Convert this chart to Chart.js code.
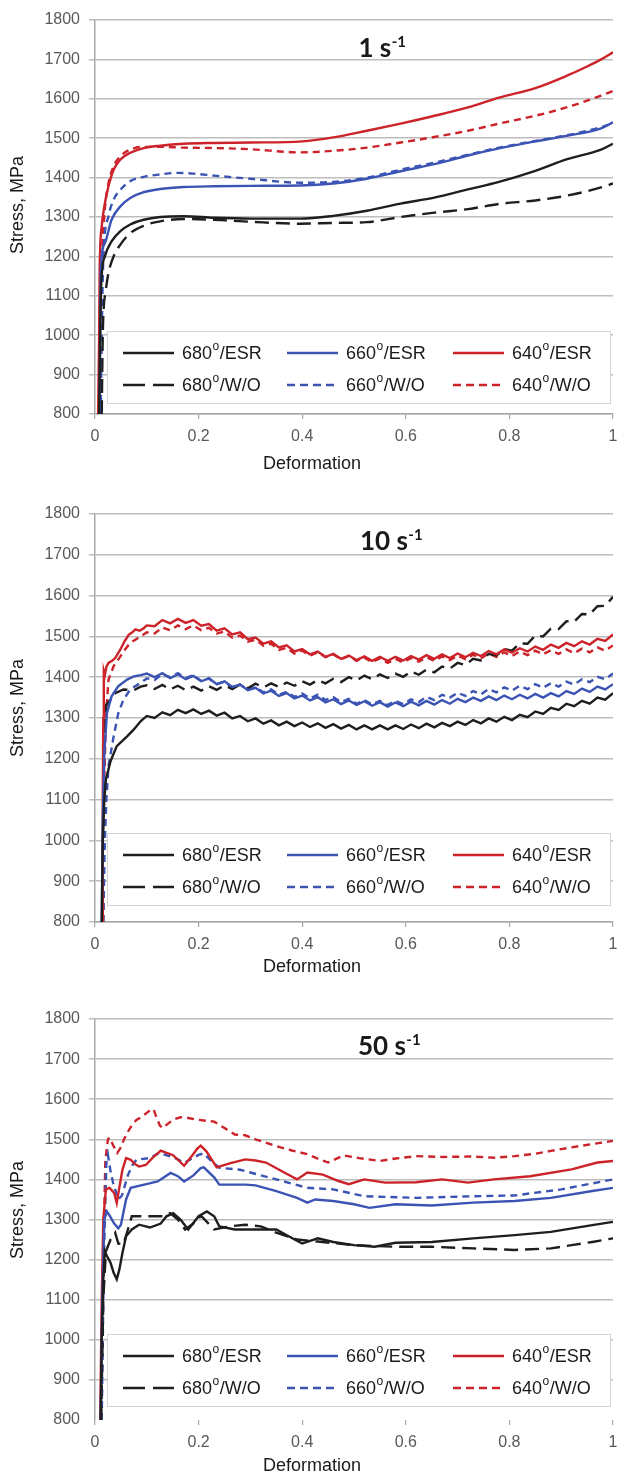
<!DOCTYPE html>
<html><head><meta charset="utf-8">
<script src="https://cdn.jsdelivr.net/npm/chart.js@4.4.1/dist/chart.umd.min.js"></script>
<style>
html,body{margin:0;padding:0;background:#fff;overflow:hidden;width:617px;height:1474px;position:relative;}
canvas{position:absolute;left:0;display:block;}
</style></head><body>
<canvas id="c1" width="640" height="480" style="top:0px"></canvas>
<canvas id="c2" width="640" height="490" style="top:494px"></canvas>
<canvas id="c3" width="640" height="475" style="top:999px"></canvas>
<script>
// ---------- labels ----------
const seriesLabels = ['680°/ESR','660°/ESR','640°/ESR','680°/W/O','660°/W/O','640°/W/O'];
const chartTitles = ['1 s','10 s','50 s'];
const titleSup = '-1';
const xTicks = [0,0.2,0.4,0.6,0.8,1];
const yTicks = [800,900,1000,1100,1200,1300,1400,1500,1600,1700,1800];

// ---------- chart 1 : 1 s-1 ----------
const c1_680esr_x = [0.008,0.010,0.012,0.019,0.032,0.049,0.068,0.094,0.126,0.171,0.23,0.30,0.396,0.46,0.525,0.59,0.655,0.72,0.78,0.85,0.91,0.977,1.0];
const c1_680esr_y = [800,1000,1130,1200,1238,1264,1281,1293,1300,1302,1298,1296,1296,1303,1316,1334,1349,1370,1389,1417,1446,1471,1486];
const c1_660esr_x = [0.009,0.010,0.011,0.019,0.032,0.049,0.068,0.094,0.126,0.171,0.23,0.30,0.396,0.46,0.525,0.59,0.655,0.72,0.78,0.85,0.91,0.977,1.0];
const c1_660esr_y = [800,1000,1158,1234,1293,1327,1348,1363,1371,1376,1378,1379,1380,1385,1397,1416,1434,1456,1474,1492,1506,1525,1540];
const c1_640esr_x = [0.006,0.008,0.009,0.013,0.017,0.026,0.036,0.049,0.068,0.094,0.126,0.171,0.23,0.30,0.40,0.46,0.525,0.59,0.65,0.72,0.78,0.85,0.91,0.95,0.977,1.0];
const c1_640esr_y = [800,1000,1166,1276,1319,1378,1420,1446,1463,1475,1481,1486,1488,1489,1492,1502,1519,1537,1555,1578,1603,1627,1658,1682,1700,1718];
const c1_680wo_x = [0.013,0.015,0.017,0.020,0.026,0.036,0.049,0.068,0.094,0.126,0.171,0.23,0.30,0.396,0.46,0.525,0.59,0.655,0.72,0.78,0.85,0.91,0.977,1.0];
const c1_680wo_y = [800,1000,1073,1107,1158,1200,1230,1259,1278,1289,1295,1293,1288,1283,1285,1287,1300,1311,1320,1333,1342,1354,1375,1385];
const c1_660wo_x = [0.011,0.013,0.016,0.026,0.036,0.049,0.068,0.094,0.126,0.158,0.19,0.23,0.30,0.396,0.46,0.525,0.59,0.655,0.72,0.78,0.85,0.91,0.977,1.0];
const c1_660wo_y = [800,1000,1192,1302,1344,1369,1391,1402,1408,1412,1410,1405,1397,1387,1389,1400,1420,1438,1458,1476,1493,1507,1528,1538];
const c1_640wo_x = [0.008,0.010,0.013,0.019,0.026,0.036,0.049,0.068,0.094,0.126,0.171,0.23,0.30,0.396,0.46,0.525,0.59,0.655,0.72,0.78,0.85,0.91,0.977,1.0];
const c1_640wo_y = [800,1000,1180,1319,1385,1429,1454,1471,1478,1478,1476,1475,1472,1464,1468,1476,1489,1503,1519,1537,1557,1578,1608,1620];

// ---------- chart 2 : 10 s-1 ----------
const c2_tail_x = [0.100,0.115,0.130,0.145,0.160,0.175,0.190,0.205,0.220,0.235,0.250,0.265,0.280,0.295,0.310,0.325,0.340,0.355,0.370,0.385,0.400,0.415,0.430,0.445,0.460,0.475,0.490,0.505,0.520,0.535,0.550,0.565,0.580,0.595,0.610,0.625,0.640,0.655,0.670,0.685,0.700,0.715,0.730,0.745,0.760,0.775,0.790,0.805,0.820,0.835,0.850,0.865,0.880,0.895,0.910,0.925,0.940,0.955,0.970,0.985,1.000];
const c2_680esr_x0 = [0.013,0.015,0.018,0.021,0.030,0.042,0.062,0.075,0.088];
const c2_680esr_y0 = [800,1000,1100,1149,1194,1231,1255,1272,1292];
const c2_680esr_y1 = [1305,1300,1314,1307,1320,1312,1321,1310,1318,1306,1313,1299,1305,1292,1299,1286,1294,1282,1291,1280,1289,1278,1287,1276,1285,1274,1283,1272,1282,1272,1282,1272,1282,1273,1284,1275,1286,1277,1288,1280,1291,1283,1295,1287,1299,1291,1303,1295,1308,1302,1316,1310,1325,1320,1335,1329,1342,1335,1350,1345,1361];
const c2_660esr_x0 = [0.013,0.015,0.018,0.023,0.032,0.045,0.062,0.075,0.088];
const c2_660esr_y0 = [800,1050,1214,1312,1353,1378,1394,1402,1405];
const c2_660esr_y1 = [1409,1400,1410,1398,1407,1395,1403,1390,1397,1383,1390,1376,1382,1368,1374,1360,1367,1354,1361,1348,1355,1343,1351,1338,1346,1334,1343,1332,1341,1330,1339,1328,1338,1329,1340,1331,1342,1333,1344,1335,1347,1339,1350,1342,1353,1344,1355,1346,1357,1348,1359,1350,1361,1353,1366,1359,1372,1364,1377,1370,1383];
const c2_640esr_x0 = [0.014,0.015,0.016,0.017,0.019,0.022,0.026,0.033,0.039,0.049,0.057,0.065,0.072,0.078,0.086,0.094];
const c2_640esr_y0 = [800,1100,1300,1415,1405,1425,1435,1440,1447,1468,1488,1504,1510,1517,1514,1520];
const c2_640esr_y1 = [1527,1525,1540,1532,1543,1533,1540,1526,1530,1514,1520,1505,1510,1493,1497,1482,1488,1473,1478,1463,1469,1456,1463,1450,1457,1445,1453,1442,1451,1440,1450,1440,1450,1441,1452,1443,1454,1445,1456,1447,1458,1449,1460,1452,1464,1456,1468,1460,1471,1463,1475,1467,1480,1472,1484,1476,1488,1480,1494,1489,1505];
const c2_680wo_x0 = [0.014,0.016,0.019,0.022,0.030,0.039,0.055,0.075,0.088];
const c2_680wo_y0 = [800,1100,1300,1333,1345,1361,1370,1368,1377];
const c2_680wo_y1 = [1380,1371,1381,1370,1379,1368,1377,1367,1378,1369,1380,1371,1382,1373,1384,1375,1385,1376,1387,1379,1390,1382,1393,1385,1396,1388,1400,1392,1404,1395,1407,1398,1409,1401,1414,1406,1419,1412,1426,1421,1435,1430,1445,1441,1457,1453,1469,1465,1483,1482,1502,1500,1519,1518,1537,1536,1555,1554,1574,1575,1597];
const c2_660wo_x0 = [0.016,0.019,0.022,0.026,0.036,0.045,0.055,0.068,0.088];
const c2_660wo_y0 = [800,1000,1100,1182,1255,1312,1345,1370,1386];
const c2_660wo_y1 = [1397,1393,1407,1400,1410,1398,1405,1391,1397,1383,1389,1375,1382,1369,1376,1363,1370,1357,1364,1352,1360,1348,1357,1344,1351,1339,1347,1335,1344,1333,1342,1332,1342,1334,1346,1339,1352,1344,1357,1350,1362,1354,1366,1358,1371,1363,1375,1367,1379,1371,1383,1374,1385,1377,1389,1382,1395,1388,1401,1395,1409];
const c2_640wo_x0 = [0.016,0.018,0.021,0.026,0.036,0.049,0.058,0.068,0.078,0.088];
const c2_640wo_y0 = [800,1150,1300,1394,1427,1451,1468,1484,1492,1500];
const c2_640wo_y1 = [1510,1507,1522,1515,1527,1518,1527,1515,1521,1507,1512,1497,1502,1487,1492,1477,1482,1467,1472,1458,1465,1453,1461,1449,1456,1444,1452,1440,1448,1437,1446,1435,1445,1436,1447,1438,1449,1440,1451,1442,1453,1444,1455,1446,1458,1450,1461,1452,1463,1454,1465,1456,1466,1457,1468,1459,1470,1461,1473,1465,1478];

// ---------- chart 3 : 50 s-1 ----------
const c3_680esr_x = [0.011,0.013,0.016,0.019,0.023,0.030,0.036,0.042,0.047,0.053,0.060,0.071,0.085,0.106,0.127,0.138,0.151,0.165,0.180,0.200,0.216,0.230,0.240,0.270,0.350,0.380,0.400,0.430,0.460,0.500,0.540,0.580,0.650,0.730,0.810,0.880,0.960,1.000];
const c3_680esr_y = [800,1000,1150,1221,1209,1192,1167,1151,1175,1217,1258,1275,1287,1280,1290,1308,1316,1300,1275,1308,1320,1308,1283,1275,1275,1254,1240,1253,1244,1236,1232,1242,1244,1253,1261,1269,1286,1294];
const c3_660esr_x = [0.011,0.014,0.018,0.023,0.028,0.037,0.045,0.050,0.060,0.069,0.095,0.121,0.146,0.160,0.172,0.190,0.204,0.210,0.230,0.240,0.290,0.310,0.350,0.390,0.410,0.425,0.460,0.500,0.530,0.580,0.650,0.730,0.810,0.880,0.960,1.000];
const c3_660esr_y = [800,1100,1300,1320,1310,1290,1278,1287,1350,1379,1387,1395,1416,1408,1395,1410,1428,1430,1405,1387,1387,1385,1371,1354,1342,1350,1346,1338,1329,1338,1335,1342,1346,1354,1371,1379];
const c3_640esr_x = [0.010,0.013,0.016,0.021,0.028,0.033,0.037,0.042,0.047,0.053,0.060,0.069,0.077,0.085,0.098,0.112,0.127,0.138,0.150,0.161,0.172,0.185,0.197,0.204,0.215,0.235,0.260,0.290,0.310,0.330,0.360,0.390,0.410,0.440,0.470,0.490,0.520,0.560,0.620,0.670,0.720,0.770,0.840,0.920,0.970,1.000];
const c3_640esr_y = [800,1100,1300,1375,1379,1372,1366,1341,1380,1424,1453,1449,1438,1432,1436,1455,1472,1466,1461,1448,1434,1455,1476,1484,1470,1430,1440,1450,1447,1442,1421,1400,1417,1412,1396,1388,1400,1392,1393,1400,1392,1400,1408,1425,1442,1446];
const c3_680wo_x = [0.012,0.016,0.021,0.030,0.039,0.045,0.055,0.071,0.100,0.130,0.145,0.160,0.174,0.190,0.205,0.230,0.260,0.290,0.320,0.350,0.390,0.430,0.500,0.580,0.650,0.730,0.810,0.880,0.920,0.960,1.000];
const c3_680wo_y = [800,1100,1220,1250,1267,1240,1238,1308,1308,1308,1316,1300,1275,1290,1309,1275,1283,1287,1283,1267,1250,1245,1236,1232,1232,1228,1224,1228,1236,1244,1253];
const c3_660wo_x = [0.013,0.017,0.022,0.025,0.030,0.035,0.045,0.052,0.064,0.072,0.080,0.105,0.124,0.146,0.160,0.172,0.200,0.210,0.225,0.240,0.280,0.350,0.410,0.460,0.520,0.620,0.730,0.810,0.900,0.940,1.000];
const c3_660wo_y = [800,1200,1440,1461,1420,1391,1350,1360,1412,1435,1449,1453,1466,1457,1450,1441,1461,1465,1445,1429,1424,1400,1379,1375,1358,1354,1358,1360,1375,1385,1400];
const c3_640wo_x = [0.012,0.016,0.020,0.025,0.028,0.035,0.043,0.050,0.056,0.064,0.072,0.080,0.091,0.100,0.107,0.113,0.117,0.125,0.130,0.138,0.146,0.155,0.165,0.180,0.197,0.215,0.230,0.250,0.270,0.290,0.310,0.350,0.380,0.410,0.430,0.450,0.480,0.510,0.550,0.580,0.620,0.670,0.730,0.770,0.810,0.850,0.880,0.920,0.960,1.000];
const c3_640wo_y = [800,1200,1448,1500,1504,1485,1466,1480,1500,1520,1537,1548,1557,1566,1573,1575,1561,1535,1528,1536,1544,1551,1555,1553,1549,1546,1544,1528,1512,1510,1500,1483,1472,1463,1452,1442,1460,1453,1446,1452,1458,1456,1457,1454,1458,1464,1471,1480,1488,1496];

// ---------- styling ----------
const FONT = 'Liberation Sans';
const colors = ['#1e1e1e','#3b54b4','#cc2229','#1e1e1e','#3b54b4','#cc2229'];
const dashes = [[],[],[],[14,7],[7,5],[7,5]];
const legendDashes = [[],[],[],[22,8],[8,5],[8,5]];

function pts(xs, ys){ return xs.map((x,i)=>({x:x, y:ys[i]})); }

function buildDatasets(pairs, tension){
  return pairs.map((p,i)=>({
    label: seriesLabels[i],
    data: pts(p[0], p[1]),
    borderColor: colors[i],
    backgroundColor: colors[i],
    borderWidth: 2.4,
    borderDash: dashes[i],
    legendDash: legendDashes[i],
    pointRadius: 0,
    tension: tension,
    cubicInterpolationMode: tension > 0 ? 'monotone' : 'default',
    fill: false
  }));
}

function supText(ctx, x, y, main, sup, mainFont, supFont, rise, color){
  ctx.fillStyle = color;
  ctx.font = mainFont; ctx.fillText(main, x, y);
  const w = ctx.measureText(main).width;
  ctx.font = supFont; ctx.fillText(sup, x + w + 0.5, y - rise);
  return w + ctx.measureText(sup).width + 0.5;
}

const decor = {
  id: 'decor',
  beforeDatasetsDraw(chart, args, o){
    const ctx = chart.ctx;
    const L = chart.chartArea.left + 12, R = 610, T = o.legendTop, H = 72;
    ctx.save();
    ctx.fillStyle = '#ffffff';
    ctx.fillRect(L, T, R - L, H);
    ctx.strokeStyle = '#d4d4d4'; ctx.lineWidth = 1;
    ctx.strokeRect(L + 0.5, T + 0.5, R - L, H);
    const cols = [123, 287, 453];
    chart.data.datasets.forEach((ds, i) => {
      const col = i % 3, row = Math.floor(i / 3);
      const y = T + 22 + row * 32;
      const x0 = cols[col];
      ctx.save();
      ctx.strokeStyle = ds.borderColor; ctx.lineWidth = 2.6;
      ctx.setLineDash(ds.legendDash);
      ctx.beginPath(); ctx.moveTo(x0, y); ctx.lineTo(x0 + 51, y); ctx.stroke();
      ctx.restore();
      const parts = ds.label.split('°');
      ctx.textBaseline = 'middle'; ctx.textAlign = 'left';
      ctx.fillStyle = '#1a1a1a';
      ctx.font = '18px "' + FONT + '"';
      ctx.fillText(parts[0], x0 + 59, y + 1);
      let w = ctx.measureText(parts[0]).width;
      ctx.font = '12px "' + FONT + '"';
      ctx.fillText('o', x0 + 59 + w + 0.5, y - 6);
      w += ctx.measureText('o').width + 1;
      ctx.font = '18px "' + FONT + '"';
      ctx.fillText('/' + parts[1].replace(/^\//,''), x0 + 59 + w, y + 1);
    });
    ctx.restore();
  },
  afterDraw(chart, args, o){
    const ctx = chart.ctx;
    ctx.save();
    ctx.textAlign = 'left'; ctx.textBaseline = 'alphabetic';
    // chart title with superscript
    const mf = 'bold 26px Lato', sf = 'bold 15px Lato';
    ctx.font = mf; const w1 = ctx.measureText(o.title).width;
    ctx.font = sf; const w2 = ctx.measureText(titleSup).width;
    supText(ctx, o.titleX - (w1 + w2) / 2, o.titleY, o.title, titleSup, mf, sf, 10, '#1a1a1a');
    // x axis title
    ctx.font = '18px "' + FONT + '"';
    ctx.fillStyle = '#1a1a1a';
    ctx.textAlign = 'center'; ctx.textBaseline = 'middle';
    ctx.fillText('Deformation', 312, o.xTitleY);
    // y axis title
    ctx.translate(18, o.yTitleY);
    ctx.rotate(-Math.PI / 2);
    ctx.fillText('Stress, MPa', 0, 0);
    ctx.restore();
  }
};

function makeChart(id, datasets, cfg){
  const gridCol = '#bdbdbd';
  return new Chart(document.getElementById(id), {
    type: 'line',
    data: { datasets: datasets },
    plugins: [decor],
    options: {
      responsive: false, animation: false, events: [],
      layout: { padding: { top: 20, right: 27, left: 0, bottom: 0 } },
      plugins: {
        legend: { display: false }, tooltip: { enabled: false }, title: { display: false },
        decor: cfg
      },
      scales: {
        x: {
          type: 'linear', min: 0, max: 1,
          afterFit: s => { s.width = s.width; s.height = cfg.xHeight; },
          afterBuildTicks: s => { s.ticks = xTicks.map(v => ({ value: v })); },
          ticks: {
            autoSkip: false, maxRotation: 0, padding: 8,
            color: '#595959', font: { family: FONT, size: 16 },
            callback: v => String(Math.round(v * 10) / 10)
          },
          grid: { display: true, drawOnChartArea: false, drawTicks: true, tickLength: 5, color: '#a8a8a8', lineWidth: 1.2 },
          border: { display: cfg.xBorder, color: '#a8a8a8', width: 1.5 }
        },
        y: {
          type: 'linear', min: 800, max: 1800,
          afterFit: s => { s.width = 95; },
          afterBuildTicks: s => { s.ticks = yTicks.map(v => ({ value: v })); },
          ticks: {
            padding: 9, color: '#595959', font: { family: FONT, size: 16 },
            callback: v => String(v)
          },
          grid: {
            drawTicks: true, tickLength: 6, lineWidth: 1.5,
            color: c => (!cfg.xBorder && c.tick && c.tick.value === 800) ? 'rgba(0,0,0,0)' : gridCol
          },
          border: { display: true, color: '#a8a8a8', width: 1.5 }
        }
      }
    }
  });
}

makeChart('c1', buildDatasets([
  [c1_680esr_x, c1_680esr_y], [c1_660esr_x, c1_660esr_y], [c1_640esr_x, c1_640esr_y],
  [c1_680wo_x, c1_680wo_y], [c1_660wo_x, c1_660wo_y], [c1_640wo_x, c1_640wo_y]
], 0.4), { title: chartTitles[0], titleX: 382, titleY: 57, legendTop: 331, xHeight: 66, xTitleY: 464, yTitleY: 205, xBorder: true });

makeChart('c2', buildDatasets([
  [c2_680esr_x0.concat(c2_tail_x), c2_680esr_y0.concat(c2_680esr_y1)],
  [c2_660esr_x0.concat(c2_tail_x), c2_660esr_y0.concat(c2_660esr_y1)],
  [c2_640esr_x0.concat(c2_tail_x), c2_640esr_y0.concat(c2_640esr_y1)],
  [c2_680wo_x0.concat(c2_tail_x), c2_680wo_y0.concat(c2_680wo_y1)],
  [c2_660wo_x0.concat(c2_tail_x), c2_660wo_y0.concat(c2_660wo_y1)],
  [c2_640wo_x0.concat(c2_tail_x), c2_640wo_y0.concat(c2_640wo_y1)]
], 0), { title: chartTitles[1], titleX: 391, titleY: 56, legendTop: 339, xHeight: 62, xTitleY: 473, yTitleY: 214, xBorder: true });

makeChart('c3', buildDatasets([
  [c3_680esr_x, c3_680esr_y], [c3_660esr_x, c3_660esr_y], [c3_640esr_x, c3_640esr_y],
  [c3_680wo_x, c3_680wo_y], [c3_660wo_x, c3_660wo_y], [c3_640wo_x, c3_640wo_y]
], 0), { title: chartTitles[2], titleX: 389, titleY: 56, legendTop: 335, xHeight: 54, xTitleY: 467, yTitleY: 211, xBorder: false });
</script>
</body></html>
